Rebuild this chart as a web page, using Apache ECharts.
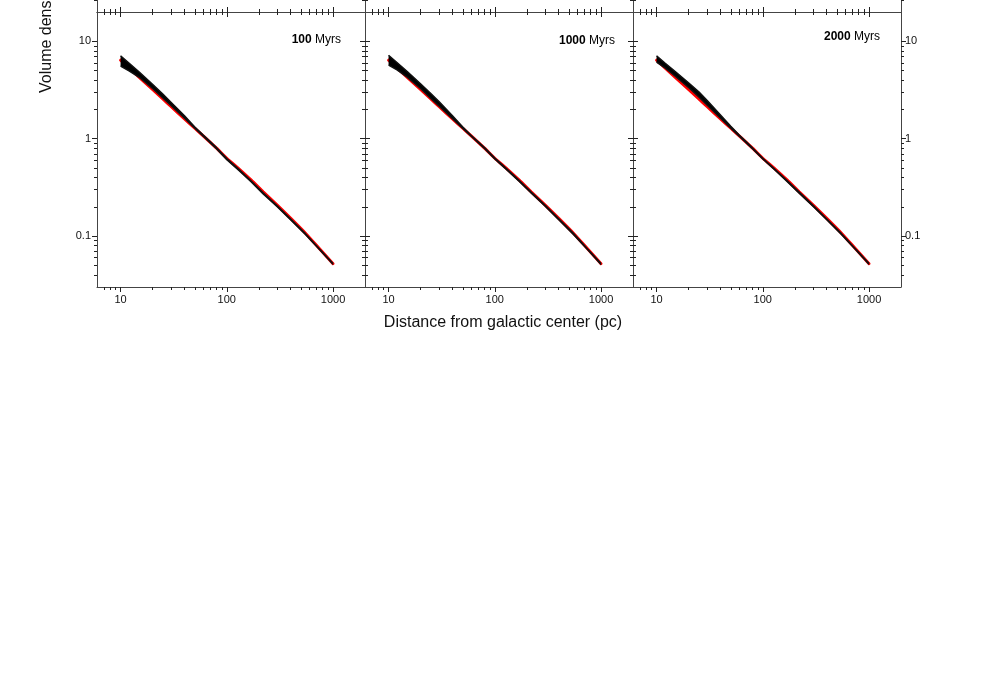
<!DOCTYPE html>
<html>
<head>
    <meta charset='utf-8'>
    <script src="https://cdn.jsdelivr.net/npm/echarts@6/dist/echarts.min.js"></script>
</head>
<body>
<style>
    html, body, #main {
        width: 100%;
        height: 100%;
        margin: 0;
        padding: 0;
        background: #fff;
    }
</style>
<div id="main"></div>
<script>

    // radius sample points (pc), shared by every curve
    var radius = [10, 12, 15, 20, 25, 30, 40, 50, 60, 80, 100, 130, 170, 220, 300, 400, 550, 750, 1000];

    // red reference profile, same in all three panels
    var modelDensity = [6.40, 5.33, 4.27, 3.20, 2.56, 2.13, 1.60, 1.28, 1.07, 0.80, 0.63, 0.49, 0.375, 0.285, 0.207, 0.152, 0.107, 0.0735, 0.052];

    // lower / upper edge of the bundle of black runs
    var low100 = [5.57, 4.97, 4.27, 3.27, 2.62, 2.18, 1.62, 1.28, 1.06, 0.79, 0.608, 0.472, 0.360, 0.271, 0.199, 0.146, 0.104, 0.0722, 0.0512];
    var high100 = [7.10, 5.98, 4.85, 3.63, 2.87, 2.36, 1.72, 1.32, 1.09, 0.81, 0.625, 0.486, 0.368, 0.279, 0.204, 0.150, 0.106, 0.0733, 0.0522];
    var low1000 = [5.70, 5.09, 4.27, 3.27, 2.59, 2.16, 1.60, 1.27, 1.06, 0.795, 0.620, 0.478, 0.364, 0.277, 0.201, 0.147, 0.104, 0.0722, 0.0510];
    var high1000 = [7.18, 6.05, 4.90, 3.67, 2.91, 2.39, 1.72, 1.32, 1.08, 0.81, 0.635, 0.488, 0.372, 0.284, 0.206, 0.151, 0.107, 0.0735, 0.0522];
    var low2000 = [6.11, 5.33, 4.37, 3.35, 2.68, 2.20, 1.62, 1.28, 1.06, 0.79, 0.618, 0.476, 0.362, 0.276, 0.200, 0.147, 0.104, 0.0724, 0.0512];
    var high2000 = [7.10, 5.98, 4.90, 3.76, 3.04, 2.47, 1.75, 1.34, 1.09, 0.805, 0.630, 0.486, 0.370, 0.283, 0.205, 0.150, 0.106, 0.0735, 0.0522];

    var ages = ['100', '1000', '2000'];

    var xMajorTicks = [10, 100, 1000];
    var xTickLabels = ['10', '100', '1000'];
    var xMinorTicks = [7, 8, 9, 20, 30, 40, 50, 60, 70, 80, 90, 200, 300, 400, 500, 600, 700, 800, 900];
    var yMajorTicks = [0.1, 1, 10];
    var yTickLabels = ['0.1', '1', '10'];
    var yMinorTicks = [0.04, 0.05, 0.06, 0.07, 0.08, 0.09, 0.2, 0.3, 0.4, 0.5, 0.6, 0.7, 0.8, 0.9, 2, 3, 4, 5, 6, 7, 8, 9];

    var xTitle = 'Distance from galactic center (pc)';
    var yTitle = 'Volume density (M\u2609 pc\u207B\u00B3)';

    var chart = echarts.init(document.getElementById('main'));

    var font = '"Liberation Sans", Arial, Helvetica, sans-serif';
    var xMin = 6, xMax = 2000, yMin = 0.03, yMax = 20;
    var panelLeft = [97, 365, 633];
    var panelWidth = 268;
    var rowTop = 12, rowHeight = 275;
    var ageRight = [341, 615, 880];
    var ageY = [40, 41, 37];
    var lg = Math.log10;

    var grids = [], xAxes = [], yAxes = [], series = [];

    function labelFor(ticks, labels) {
        return function (v) {
            var best = 0;
            for (var k = 1; k < ticks.length; k++) {
                if (Math.abs(lg(ticks[k]) - v) < Math.abs(lg(ticks[best]) - v)) best = k;
            }
            return labels[best];
        };
    }

    // value axes in log10 space, only used to draw frame, ticks and labels
    function decoAxis(isX, gridIndex, position, ticks, len, showLine, labels, margin) {
        var tickPos = ticks.map(lg);
        var ax = {
            type: 'value',
            gridIndex: gridIndex,
            position: position,
            min: isX ? lg(xMin) : lg(yMin),
            max: isX ? lg(xMax) : lg(yMax),
            silent: true,
            axisLine: {show: showLine, onZero: false, lineStyle: {color: '#444', width: 1}},
            axisTick: {show: true, inside: false, length: len, customValues: tickPos, lineStyle: {color: '#222', width: 1}},
            axisLabel: {show: false},
            splitLine: {show: false},
            axisPointer: {show: false}
        };
        if (labels) {
            ax.axisLabel = {
                show: true,
                customValues: tickPos,
                margin: margin,
                fontSize: 11,
                fontFamily: font,
                color: '#111',
                formatter: labelFor(ticks, labels)
            };
        }
        (isX ? xAxes : yAxes).push(ax);
    }

    function bandRenderer(params, api) {
        if (params.dataIndexInside !== 0) return null;
        var top = [], bottom = [];
        for (var k = 0; k < params.dataInsideLength; k++) {
            top.push(api.coord([api.value(0, k), api.value(2, k)]));
            bottom.unshift(api.coord([api.value(0, k), api.value(1, k)]));
        }
        return {
            type: 'polygon',
            shape: {points: top.concat(bottom)},
            style: {fill: '#000', stroke: null}
        };
    }

    var lows = [low100, low1000, low2000];
    var highs = [high100, high1000, high2000];

    for (var p = 0; p < 3; p++) {
        // panel of the visible row
        var g = grids.length;
        grids.push({left: panelLeft[p], top: rowTop, width: panelWidth, height: rowHeight,
            containLabel: false, outerBoundsMode: 'none'});
        var lx = xAxes.length;
        xAxes.push({type: 'log', logBase: 10, gridIndex: g, min: xMin, max: xMax, show: false});
        var ly = yAxes.length;
        yAxes.push({type: 'log', logBase: 10, gridIndex: g, min: yMin, max: yMax, show: false});

        decoAxis(true, g, 'bottom', xMajorTicks, 5, true, xTickLabels, 7);
        decoAxis(true, g, 'bottom', xMinorTicks, 3, false);
        decoAxis(true, g, 'top', xMajorTicks, 5, true);
        decoAxis(true, g, 'top', xMinorTicks, 3, false);
        decoAxis(false, g, 'left', yMajorTicks, 5, true, p === 0 ? yTickLabels : null, 6);
        decoAxis(false, g, 'left', yMinorTicks, 3, false);
        decoAxis(false, g, 'right', yMajorTicks, 5, true, p === 2 ? yTickLabels : null, 4);
        decoAxis(false, g, 'right', yMinorTicks, 3, false);

        var low = lows[p], high = highs[p];

        series.push({
            type: 'line',
            xAxisIndex: lx, yAxisIndex: ly,
            data: radius.map(function (r, k) { return [r, modelDensity[k]]; }),
            symbol: 'none',
            smooth: 0.2,
            lineStyle: {color: '#ff0000', width: 3, cap: 'round'},
            z: 2, silent: true
        });
        series.push({
            type: 'custom',
            xAxisIndex: lx, yAxisIndex: ly,
            data: radius.map(function (r, k) { return [r, low[k], high[k]]; }),
            renderItem: bandRenderer,
            z: 3, silent: true
        });
        [low, high].forEach(function (run) {
            series.push({
                type: 'line',
                xAxisIndex: lx, yAxisIndex: ly,
                data: radius.map(function (r, k) { return [r, run[k]]; }),
                symbol: 'none',
                lineStyle: {color: '#111', width: 1.4},
                z: 4, silent: true
            });
        });

        // row above, mostly outside the picture: only its frame reaches in
        var gu = grids.length;
        grids.push({left: panelLeft[p], top: rowTop - rowHeight, width: panelWidth, height: rowHeight,
            containLabel: false, outerBoundsMode: 'none'});
        decoAxis(true, gu, 'bottom', xMajorTicks, 5, true);
        decoAxis(true, gu, 'bottom', xMinorTicks, 3, false);
        decoAxis(false, gu, 'left', yMajorTicks, 5, true);
        decoAxis(false, gu, 'left', yMinorTicks, 3, false);
        decoAxis(false, gu, 'right', yMajorTicks, 5, true);
        decoAxis(false, gu, 'right', yMinorTicks, 3, false);
    }

    var graphics = ages.map(function (age, p) {
        return {
            type: 'text',
            x: ageRight[p], y: ageY[p],
            silent: true,
            style: {
                text: '{b|' + age + '} Myrs',
                rich: {b: {fontWeight: 'bold', fontSize: 12, fontFamily: font, fill: '#000'}},
                fontSize: 12, fontFamily: font, fill: '#000',
                align: 'right', textAlign: 'right',
                verticalAlign: 'middle', textVerticalAlign: 'middle'
            }
        };
    });
    graphics.push({
        type: 'text', x: 503, y: 323, silent: true,
        style: {
            text: xTitle, fontSize: 16, fontFamily: font, fill: '#111',
            align: 'center', textAlign: 'center',
            verticalAlign: 'middle', textVerticalAlign: 'middle'
        }
    });
    graphics.push({
        type: 'text', x: 46.5, y: 93, rotation: Math.PI / 2, silent: true,
        style: {
            text: yTitle, fontSize: 16, fontFamily: font, fill: '#111',
            align: 'left', textAlign: 'left',
            verticalAlign: 'middle', textVerticalAlign: 'middle'
        }
    });

    chart.setOption({
        animation: false,
        backgroundColor: '#fff',
        textStyle: {fontFamily: font},
        grid: grids,
        xAxis: xAxes,
        yAxis: yAxes,
        series: series,
        graphic: {elements: graphics}
    });
</script>
</body>
</html>
